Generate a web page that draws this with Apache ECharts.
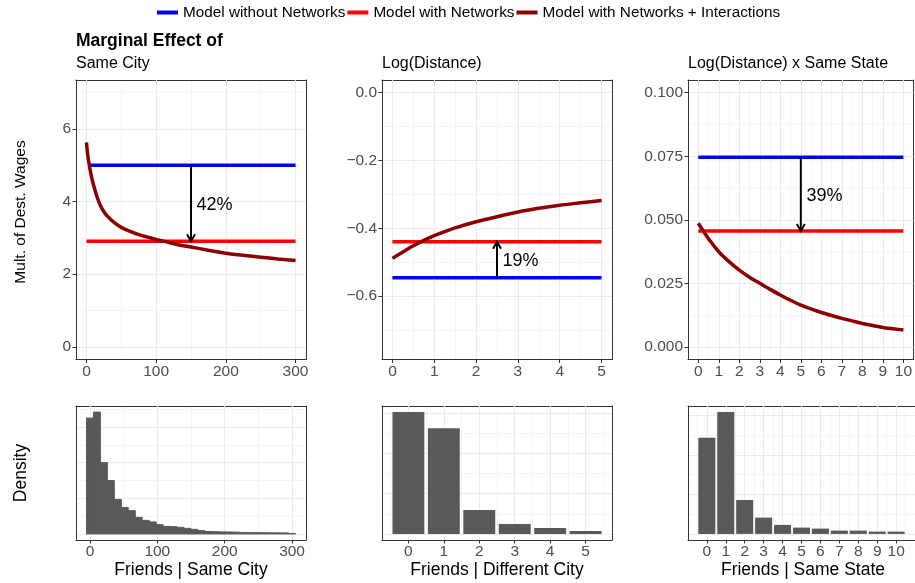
<!DOCTYPE html>
<html><head><meta charset="utf-8">
<script src="https://cdn.jsdelivr.net/npm/echarts@6/dist/echarts.min.js"></script>
<style>html,body{margin:0;padding:0;background:#fff}#c{width:915px;height:583px}</style>
</head><body><div id="c"></div><script>
// ---------------- DATA ----------------
const legendNames = ['Model without Networks', 'Model with Networks', 'Model with Networks + Interactions'];
const mainTitle = 'Marginal Effect of';
const panelTitles = ['Same City', 'Log(Distance)', 'Log(Distance) x Same State'];
const histTitles = ['Friends | Same City', 'Friends | Different City', 'Friends | Same State'];
const yTitleTop = 'Mult. of Dest. Wages';
const yTitleBottom = 'Density';

// Panel 1: Same City
const cityX = [0, 1, 2, 3, 5, 7.5, 10, 15, 20, 25, 30, 40, 50, 60, 75, 90, 100, 115, 130, 150, 175, 200, 225, 250, 275, 300];
const cityInteract = [5.63, 5.42, 5.26, 5.13, 4.9, 4.66, 4.47, 4.14, 3.89, 3.72, 3.6, 3.42, 3.29, 3.2, 3.09, 3.01, 2.96, 2.89, 2.82, 2.75, 2.66, 2.58, 2.52, 2.47, 2.42, 2.38];
const cityNoNetX = [5, 300];
const cityNoNet = [5.0, 5.0];
const cityNetX = [0, 300];
const cityNet = [2.91, 2.91];
const cityArrow = [150, 5.0, 2.91];       // x, from, to
const cityLabel = [158, 3.9, '42%'];       // x, y, text
const cityXTicks = [0, 100, 200, 300];
const cityXMinor = [50, 150, 250];
const cityYTicks = [0, 2, 4, 6];
const cityYMinor = [1, 3, 5, 7];

// Panel 2: Log(Distance)
const distX = [0, 0.25, 0.5, 0.75, 1, 1.25, 1.5, 2, 2.5, 3, 3.5, 4, 4.5, 5];
const distInteract = [-0.489, -0.47, -0.452, -0.436, -0.422, -0.41, -0.399, -0.381, -0.366, -0.352, -0.341, -0.332, -0.325, -0.318];
const distNoNetX = [0, 5];
const distNoNet = [-0.546, -0.546];
const distNetX = [0, 5];
const distNet = [-0.44, -0.44];
const distArrow = [2.5, -0.546, -0.44];
const distLabel = [2.63, -0.496, '19%'];
const distXTicks = [0, 1, 2, 3, 4, 5];
const distXMinor = [0.5, 1.5, 2.5, 3.5, 4.5];
const distYTicks = [-0.6, -0.4, -0.2, 0];
const distYMinor = [-0.7, -0.5, -0.3, -0.1];

// Panel 3: Log(Distance) x Same State
const stateX = [0, 0.5, 1, 1.5, 2, 2.5, 3, 3.5, 4, 4.5, 5, 5.5, 6, 6.5, 7, 7.5, 8, 8.5, 9, 9.5, 10];
const stateInteract = [0.0486, 0.0425, 0.0374, 0.0335, 0.0302, 0.0274, 0.025, 0.0226, 0.0204, 0.0183, 0.0164, 0.0149, 0.0135, 0.0123, 0.0112, 0.0102, 0.0092, 0.0084, 0.0076, 0.0071, 0.0066];
const stateNoNetX = [0, 10];
const stateNoNet = [0.0746, 0.0746];
const stateNetX = [0, 10];
const stateNet = [0.0456, 0.0456];
const stateArrow = [5, 0.0746, 0.0456];
const stateLabel = [5.28, 0.0593, '39%'];
const stateXTicks = [0, 1, 2, 3, 4, 5, 6, 7, 8, 9, 10];
const stateXMinor = [0.5, 1.5, 2.5, 3.5, 4.5, 5.5, 6.5, 7.5, 8.5, 9.5];
const stateYTicks = [0, 0.025, 0.05, 0.075, 0.1];
const stateYMinor = [0.0125, 0.0375, 0.0625, 0.0875];

// Histograms
const histCityBins = [0, 10.3, 20.7, 31.0, 41.4, 51.7, 62.1, 72.4, 82.8, 93.1, 103.4, 113.8, 124.1, 134.5, 144.8, 155.2, 165.5, 175.9, 186.2, 196.6, 206.9, 217.2, 227.6, 237.9, 248.3, 258.6, 269.0, 279.3, 289.7, 300.0];
const histCityDensity = [0.01625, 0.01709, 0.0100, 0.00749, 0.00483, 0.00372, 0.00326, 0.00232, 0.0019, 0.00168, 0.0013, 0.00106, 0.00102, 0.00092, 0.00078, 0.00064, 0.00046, 0.00034, 0.00031, 0.00028, 0.00027, 0.00025, 0.0002, 0.00018, 0.00018, 0.00017, 0.00015, 0.00015, 0.00014, 0.00006];
const histDiffCityBins = [0, 1, 2, 3, 4, 5];
const histDiffCityDensity = [0.303, 0.263, 0.0595, 0.0246, 0.0147, 0.0072];
const histStateBins = [0, 1, 2, 3, 4, 5, 6, 7, 8, 9, 10];
const histStateDensity = [0.243, 0.308, 0.0857, 0.0412, 0.0227, 0.016, 0.0134, 0.0084, 0.0084, 0.0059, 0.0059];
const histCityXTicks = [0, 100, 200, 300];
const histCityXMinor = [50, 150, 250];
const histCityYTicks = [0, 0.005, 0.01, 0.015];
const histCityYMinor = [0.0025, 0.0075, 0.0125, 0.0175];
const histDiffXTicks = [0, 1, 2, 3, 4, 5];
const histDiffXMinor = [-0.5, 0.5, 1.5, 2.5, 3.5, 4.5, 5.5];
const histStateXTicks = [0, 1, 2, 3, 4, 5, 6, 7, 8, 9, 10];
const histStateXMinor = [-0.5, 0.5, 1.5, 2.5, 3.5, 4.5, 5.5, 6.5, 7.5, 8.5, 9.5, 10.5];
const histPropYTicks = [0, 0.1, 0.2, 0.3];
const histPropYMinor = [0.05, 0.15, 0.25];

// ---------------- STYLE / LAYOUT ----------------
const FONT = '"Liberation Sans", Arial, Helvetica, sans-serif';
const COLORS = ['#0000FF', '#FF0000', '#8B0000'];
const GRID_MAJOR = '#EBEBEB';
const LABEL_COLOR = '#4D4D4D';
const LEFTS = [76, 382, 688];
const WIDTH = 230;
const TOP_ROW = {top: 80, height: 279.5};
const BOT_ROW = {top: 406, height: 134};

function ext(vals, frac) {
  const mn = Math.min(...vals), mx = Math.max(...vals), r = mx - mn;
  return [mn - frac * r, mx + frac * r];
}
const fmtInt = v => String(v);
const fmtMinus = d => v => (v < 0 ? '\u2212' : '') + Math.abs(v).toFixed(d);

const grids = [], xAxes = [], yAxes = [], series = [];

function addPanel(p) {
  const gi = grids.length;
  grids.push({left: p.left, top: p.top, width: WIDTH, height: p.height, show: false, containLabel: false});
  const lineStyle = {color: '#333', width: 1};
  xAxes.push({type: 'value', gridIndex: gi, min: p.xr[0], max: p.xr[1], position: 'bottom',
    axisLine: {show: true, onZero: false, lineStyle},
    axisTick: {show: true, length: 3.5, lineStyle, customValues: p.xMaj},
    axisLabel: {show: true, customValues: p.xMaj, formatter: p.xFmt, color: LABEL_COLOR, fontSize: 15.5, fontFamily: FONT, margin: 4},
    splitLine: {show: true, lineStyle: {color: GRID_MAJOR, width: 1.1}}, z: 1});
  xAxes.push({type: 'value', gridIndex: gi, min: p.xr[0], max: p.xr[1], position: 'top',
    axisLine: {show: true, onZero: false, lineStyle},
    axisTick: {show: false, length: 0, customValues: p.xMin},
    axisLabel: {show: false, customValues: p.xMin},
    splitLine: {show: true, lineStyle: {color: '#F2F2F2', width: 0.8}}, z: 0});
  yAxes.push({type: 'value', gridIndex: gi, min: p.yr[0], max: p.yr[1], position: 'left',
    axisLine: {show: true, onZero: false, lineStyle},
    axisTick: {show: p.showY, length: 3.5, lineStyle, customValues: p.yMaj},
    axisLabel: {show: p.showY, customValues: p.yMaj, formatter: p.yFmt, color: LABEL_COLOR, fontSize: 15.5, fontFamily: FONT, margin: 5},
    splitLine: {show: true, lineStyle: {color: GRID_MAJOR, width: 1.1}}, z: 1});
  yAxes.push({type: 'value', gridIndex: gi, min: p.yr[0], max: p.yr[1], position: 'right',
    axisLine: {show: true, onZero: false, lineStyle},
    axisTick: {show: false, length: 0, customValues: p.yMin},
    axisLabel: {show: false, customValues: p.yMin},
    splitLine: {show: true, lineStyle: {color: '#F2F2F2', width: 0.8}}, z: 0});
  return gi;
}

function zip(xs, ys) { return xs.map((x, i) => [x, ys[i]]); }

function addLines(gi, lines) {
  lines.forEach((ln, k) => {
    series.push({type: 'line', name: legendNames[k], xAxisIndex: gi * 2, yAxisIndex: gi * 2,
      data: zip(ln[0], ln[1]), showSymbol: false, symbol: 'none', smooth: k === 2 ? 0.2 : false,
      lineStyle: {color: COLORS[k], width: 3.5}, itemStyle: {color: COLORS[k]},
      z: 2 + k, silent: true, animation: false});
  });
}

function addArrow(gi, arrow, label) {
  series.push({type: 'custom', xAxisIndex: gi * 2, yAxisIndex: gi * 2, silent: true, z: 10, animation: false,
    data: [[arrow[0], arrow[1], arrow[2], label[0], label[1]]],
    renderItem: function (params, api) {
      const p0 = api.coord([api.value(0), api.value(1)]);
      const p1 = api.coord([api.value(0), api.value(2)]);
      const t = api.coord([api.value(3), api.value(4)]);
      const dir = p1[1] > p0[1] ? 1 : -1;
      const hl = 7, hw = 4;
      return {type: 'group', children: [
        {type: 'line', shape: {x1: p0[0], y1: p0[1], x2: p1[0], y2: p1[1] - dir * 0.5}, style: {stroke: '#000', lineWidth: 2}},
        {type: 'polyline', shape: {points: [[p1[0] - hw, p1[1] - dir * hl], [p1[0], p1[1]], [p1[0] + hw, p1[1] - dir * hl]]},
          style: {stroke: '#000', lineWidth: 2, fill: null}},
        {type: 'text', x: t[0], y: t[1], style: {text: label[2], fill: '#000', font: '18px ' + FONT, align: 'left', verticalAlign: 'middle'}}
      ]};
    }});
}

function addHist(gi, bins, dens, width, stroke) {
  series.push({type: 'custom', xAxisIndex: gi * 2, yAxisIndex: gi * 2, silent: true, z: 3, animation: false,
    data: zip(bins, dens),
    renderItem: function (params, api) {
      const c = api.value(0), h = api.value(1);
      const a = api.coord([c - width / 2, h]);
      const b = api.coord([c + width / 2, 0]);
      return {type: 'rect', shape: {x: a[0], y: a[1], width: b[0] - a[0], height: b[1] - a[1]},
        style: {fill: '#595959', stroke: stroke ? '#595959' : null, lineWidth: stroke ? 1 : 0}};
    }});
}

// ---- top panels
const g1 = addPanel({left: LEFTS[0], top: TOP_ROW.top, height: TOP_ROW.height, xr: ext([0, 300], 0.05), yr: ext([0, 7], 0.05),
  xMaj: cityXTicks, xMin: cityXMinor, yMaj: cityYTicks, yMin: cityYMinor, xFmt: fmtInt, yFmt: fmtInt, showY: true});
addLines(g1, [[cityNoNetX, cityNoNet], [cityNetX, cityNet], [cityX, cityInteract]]);
addArrow(g1, cityArrow, cityLabel);

const g2 = addPanel({left: LEFTS[1], top: TOP_ROW.top, height: TOP_ROW.height, xr: ext([0, 5], 0.05), yr: ext([-0.75, 0], 0.05),
  xMaj: distXTicks, xMin: distXMinor, yMaj: distYTicks, yMin: distYMinor, xFmt: fmtInt, yFmt: fmtMinus(1), showY: true});
addLines(g2, [[distNoNetX, distNoNet], [distNetX, distNet], [distX, distInteract]]);
addArrow(g2, distArrow, distLabel);

const g3 = addPanel({left: LEFTS[2], top: TOP_ROW.top, height: TOP_ROW.height, xr: ext([0, 10], 0.05), yr: ext([0, 0.1], 0.05),
  xMaj: stateXTicks, xMin: stateXMinor, yMaj: stateYTicks, yMin: stateYMinor, xFmt: fmtInt, yFmt: fmtMinus(3), showY: true});
addLines(g3, [[stateNoNetX, stateNoNet], [stateNetX, stateNet], [stateX, stateInteract]]);
addArrow(g3, stateArrow, stateLabel);

// ---- histograms
const cityBW = 300 / 29;
const h1 = addPanel({left: LEFTS[0], top: BOT_ROW.top, height: BOT_ROW.height,
  xr: ext([-cityBW / 2, 300 + cityBW / 2], 0.05), yr: ext([0, Math.max(...histCityDensity)], 0.05),
  xMaj: histCityXTicks, xMin: histCityXMinor, yMaj: histCityYTicks, yMin: histCityYMinor, xFmt: fmtInt, yFmt: fmtInt, showY: false});
addHist(h1, histCityBins, histCityDensity, cityBW, true);

const h2 = addPanel({left: LEFTS[1], top: BOT_ROW.top, height: BOT_ROW.height,
  xr: ext([-0.45, 5.45], 0.05), yr: ext([0, Math.max(...histDiffCityDensity)], 0.05),
  xMaj: histDiffXTicks, xMin: histDiffXMinor, yMaj: histPropYTicks, yMin: histPropYMinor, xFmt: fmtInt, yFmt: fmtInt, showY: false});
addHist(h2, histDiffCityBins, histDiffCityDensity, 0.9, false);

const h3 = addPanel({left: LEFTS[2], top: BOT_ROW.top, height: BOT_ROW.height,
  xr: ext([-0.45, 10.45], 0.05), yr: ext([0, Math.max(...histStateDensity)], 0.05),
  xMaj: histStateXTicks, xMin: histStateXMinor, yMaj: histPropYTicks, yMin: histPropYMinor, xFmt: fmtInt, yFmt: fmtInt, showY: false});
addHist(h3, histStateBins, histStateDensity, 0.9, false);

// ---- text
const texts = [
  {type: 'text', x: 76, y: 41, style: {text: mainTitle, font: 'bold 17.5px ' + FONT, fill: '#000', align: 'left', verticalAlign: 'middle'}},
  {type: 'text', x: 21, y: 212, rotation: Math.PI / 2, style: {text: yTitleTop, font: '15.5px ' + FONT, fill: '#000', align: 'center', verticalAlign: 'middle'}},
  {type: 'text', x: 21, y: 473, rotation: Math.PI / 2, style: {text: yTitleBottom, font: '17.5px ' + FONT, fill: '#000', align: 'center', verticalAlign: 'middle'}}
];
panelTitles.forEach((t, i) => texts.push({type: 'text', x: LEFTS[i], y: 64, style: {text: t, font: '16px ' + FONT, fill: '#000', align: 'left', verticalAlign: 'middle'}}));
histTitles.forEach((t, i) => texts.push({type: 'text', x: LEFTS[i] + WIDTH / 2, y: 570, style: {text: t, font: '17.5px ' + FONT, fill: '#000', align: 'center', verticalAlign: 'middle'}}));

const chart = echarts.init(document.getElementById('c'), null, {renderer: 'canvas'});
chart.setOption({
  animation: false,
  backgroundColor: '#fff',
  legend: {data: legendNames, left: 157, top: 5, icon: 'rect', itemWidth: 21, itemHeight: 4, itemGap: 2, padding: 0,
    textStyle: {fontSize: 15.3, fontFamily: FONT, color: '#000'}, selectedMode: false},
  grid: grids, xAxis: xAxes, yAxis: yAxes, series: series,
  graphic: {elements: texts}
});
</script></body></html>
